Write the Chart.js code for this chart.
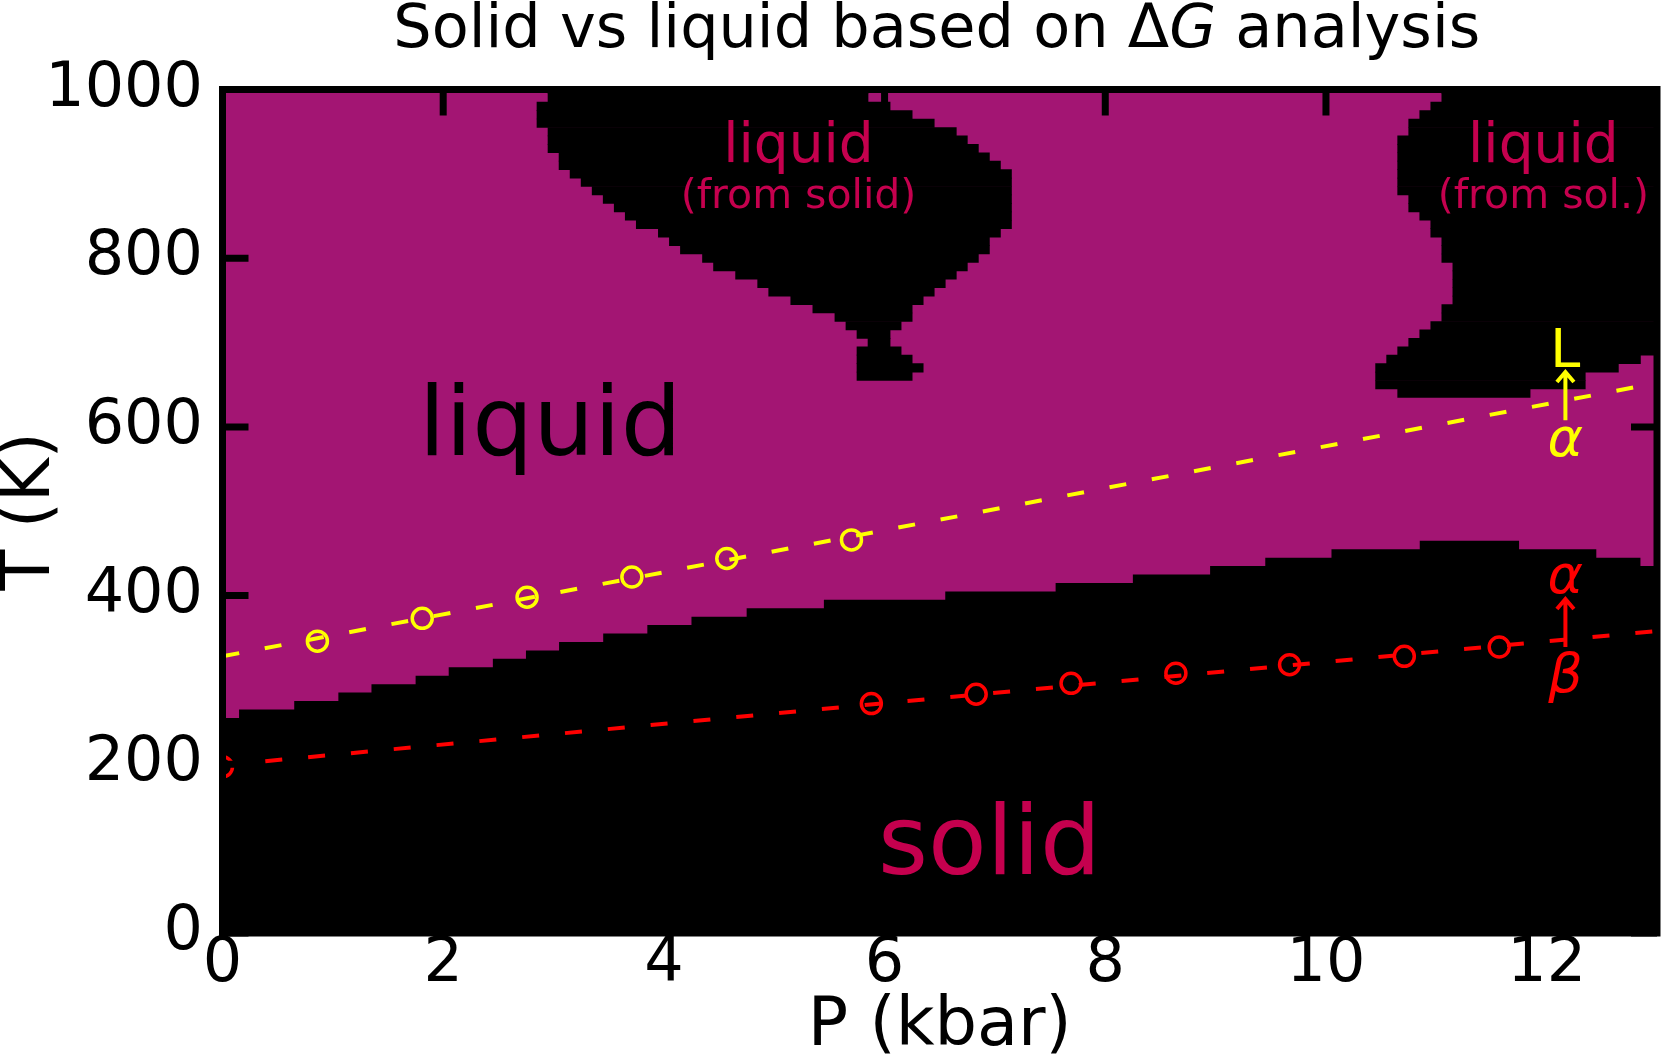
<!DOCTYPE html>
<html>
<head>
<meta charset="utf-8">
<title>Solid vs liquid based on ΔG analysis</title>
<script src="https://cdn.jsdelivr.net/npm/chart.js@4.4.1/dist/chart.umd.min.js"></script>
<style>
  html, body { margin: 0; padding: 0; background: #ffffff; }
  #chart { display: block; }
</style>
</head>
<body>
<canvas id="chart" width="1661" height="1062" style="width:1661px;height:1062px"></canvas>
<script>
// ================= DATA =================
const pressureLimits = [0, 13];            // P (kbar)
const temperatureLimits = [0, 1000];       // T (K)
const pressureTicks = [0, 2, 4, 6, 8, 10, 12];
const temperatureTicks = [0, 200, 400, 600, 800, 1000];

// Upper edge of the main solid region: level solidEdgeT[i] holds from solidEdgeP[i] to solidEdgeP[i+1]
const solidEdgeP = [0, 0.15, 0.65, 1.05, 1.35, 1.75, 2.05, 2.45, 2.75, 3.05, 3.45, 3.85, 4.25,
                    4.75, 5.45, 6.55, 7.55, 8.25, 8.95, 9.45, 10.05, 10.85, 11.75, 12.45, 12.85, 13];
const solidEdgeT = [255, 265, 275, 285, 295, 305, 315, 325, 335, 345, 355, 365, 375,
                    385, 395, 405, 415, 425, 435, 445, 455, 465, 455, 445, 435];

// Solid island "liquid (from solid)": one grid row per temperature, solid from..to (kbar)
const islandAT    = [1000, 990, 980, 970, 960, 950, 940, 930, 920, 910, 900, 890, 880, 870, 860, 850, 840,
                     830, 820, 810, 800, 790, 780, 770, 760, 750, 740, 730, 720, 710, 700, 690, 680, 670, 660];
const islandAFrom = [2.95, 2.95, 2.85, 2.85, 2.85, 2.95, 2.95, 2.95, 3.05, 3.05, 3.15, 3.25, 3.35, 3.45, 3.55, 3.65, 3.75,
                     3.95, 4.05, 4.15, 4.35, 4.45, 4.65, 4.85, 4.95, 5.15, 5.35, 5.55, 5.65, 5.75, 5.85, 5.75, 5.75, 5.75, 5.75];
const islandATo   = [5.85, 5.85, 6.05, 6.25, 6.45, 6.65, 6.75, 6.85, 6.95, 7.05, 7.15, 7.15, 7.15, 7.15, 7.15, 7.15, 7.15,
                     7.05, 6.95, 6.95, 6.85, 6.75, 6.65, 6.55, 6.45, 6.35, 6.25, 6.25, 6.15, 6.05, 6.05, 6.15, 6.25, 6.35, 6.25];

// Solid island "liquid (from sol.)"
const islandBT    = [1000, 990, 980, 970, 960, 950, 940, 930, 920, 910, 900, 890, 880, 870, 860, 850, 840, 830, 820,
                     810, 800, 790, 780, 770, 760, 750, 740, 730, 720, 710, 700, 690, 680, 670, 660, 650, 640];
const islandBFrom = [11.05, 11.05, 10.95, 10.85, 10.75, 10.75, 10.65, 10.65, 10.65, 10.65, 10.65, 10.65, 10.65, 10.75,
                     10.75, 10.85, 10.95, 10.95, 11.05, 11.05, 11.05, 11.15, 11.15, 11.15, 11.15, 11.15, 11.05, 11.05,
                     10.95, 10.85, 10.75, 10.65, 10.55, 10.45, 10.45, 10.45, 10.65];
const islandBTo   = [13, 13, 13, 13, 13, 13, 13, 13, 13, 13, 13, 13, 13, 13, 13, 13, 13, 13, 13,
                     13, 13, 13, 13, 13, 13, 13, 13, 13, 13, 13, 13, 13, 12.85, 12.65, 12.35, 12.35, 11.85];

// alpha -> L transition: fitted line and computed points
const alphaLFitP = [0, 13];
const alphaLFitT = [328, 652];
const alphaLP = [0.86, 1.81, 2.76, 3.71, 4.57, 5.70];
const alphaLT = [346, 373, 398, 422, 444, 466];

// beta -> alpha transition: fitted line and computed points
const betaAlphaFitP = [0, 13];
const betaAlphaFitT = [199, 358];
const betaAlphaP = [0, 5.88, 6.83, 7.69, 8.64, 9.67, 10.71, 11.57];
const betaAlphaT = [197, 272, 283, 296, 308, 318, 328, 339];

// ================= STYLE / ANNOTATIONS =================
const FONT = '"DejaVu Sans", "Liberation Sans", sans-serif';
const LIQ = 'rgb(163, 21, 115)';
const SOL = '#000000';
const CRIMSON = 'rgb(197, 0, 78)';
const YELLOW = '#ffff00';
const RED = '#ff0000';

const annotations = [
  { text: 'liquid',       p: 2.97,  t: 567, size: 96, color: '#000000', style: '' },
  { text: 'solid',        p: 6.95,  t: 70,  size: 96, color: CRIMSON,   style: '' },
  { text: 'liquid',       p: 5.22,  t: 914, size: 55, color: CRIMSON,   style: '' },
  { text: '(from solid)', p: 5.22,  t: 859, size: 41, color: CRIMSON,   style: '' },
  { text: 'liquid',       p: 11.97, t: 914, size: 55, color: CRIMSON,   style: '' },
  { text: '(from sol.)',  p: 11.97, t: 859, size: 41, color: CRIMSON,   style: '' },
  { text: 'L',            p: 12.17, t: 671, size: 54, color: YELLOW,    style: '' },
  { text: 'α',            p: 12.17, t: 565, size: 54, color: YELLOW,    style: 'italic ' },
  { text: 'α',            p: 12.17, t: 403, size: 54, color: RED,       style: 'italic ' },
  { text: 'β',            p: 12.17, t: 286, size: 54, color: RED,       style: 'italic ' }
];
const arrows = [
  { p: 12.17, from: 608, to: 665, color: YELLOW },
  { p: 12.17, from: 339, to: 396, color: RED }
];

// ================= BUILD =================
function toPoints(xs, ys) { return xs.map((x, i) => ({ x: x, y: ys[i] })); }

const solidData = solidEdgeT.map((t, i) => ({ x: solidEdgeP[i], y: t }));
solidData.push({ x: solidEdgeP[solidEdgeP.length - 1], y: solidEdgeT[solidEdgeT.length - 1] });

const islandBars = (ts, from, to) => ts.map((t, i) => ({ y: t, x: [from[i], to[i]] }));

const framePlugin = {
  id: 'frameTicksNotes',
  afterDatasetsDraw(chart) {
    const ctx = chart.ctx;
    const { left, right, top, bottom } = chart.chartArea;
    const xs = chart.scales.x, ys = chart.scales.y;
    ctx.save();
    // axes frame
    ctx.strokeStyle = '#000';
    ctx.lineWidth = 7;
    ctx.lineCap = 'butt';
    ctx.strokeRect(left, top, right - left, bottom - top);
    // inward tick marks on all four sides
    const len = 26;
    ctx.beginPath();
    pressureTicks.forEach(v => {
      const px = xs.getPixelForValue(v);
      ctx.moveTo(px, bottom); ctx.lineTo(px, bottom - len);
      ctx.moveTo(px, top); ctx.lineTo(px, top + len);
    });
    temperatureTicks.forEach(v => {
      const py = ys.getPixelForValue(v);
      ctx.moveTo(left, py); ctx.lineTo(left + len, py);
      ctx.moveTo(right, py); ctx.lineTo(right - len, py);
    });
    ctx.stroke();

    // arrows
    arrows.forEach(a => {
      const x = xs.getPixelForValue(a.p);
      const y0 = ys.getPixelForValue(a.from);
      const y1 = ys.getPixelForValue(a.to);
      ctx.strokeStyle = a.color;
      ctx.lineWidth = 4;
      ctx.lineJoin = 'miter';
      ctx.beginPath();
      ctx.moveTo(x, y0); ctx.lineTo(x, y1);
      ctx.moveTo(x - 8.5, y1 + 10); ctx.lineTo(x, y1); ctx.lineTo(x + 8.5, y1 + 10);
      ctx.stroke();
    });

    // region / phase labels
    ctx.textAlign = 'center';
    ctx.textBaseline = 'alphabetic';
    annotations.forEach(n => {
      ctx.font = n.style + n.size + 'px ' + FONT;
      ctx.fillStyle = n.color;
      ctx.fillText(n.text, xs.getPixelForValue(n.p), ys.getPixelForValue(n.t));
    });
    ctx.restore();
  },
  afterDraw(chart) {
    // title with italic G
    const ctx = chart.ctx;
    const { left, right } = chart.chartArea;
    const parts = [
      { t: 'Solid vs liquid based on Δ', f: '60.5px ' + FONT },
      { t: 'G', f: 'italic 60.5px ' + FONT },
      { t: ' analysis', f: '60.5px ' + FONT }
    ];
    ctx.save();
    let total = 0;
    parts.forEach(p => { ctx.font = p.f; p.w = ctx.measureText(p.t).width; total += p.w; });
    let x = (left + right) / 2 - 3 - total / 2;
    ctx.fillStyle = '#000';
    ctx.textAlign = 'left';
    ctx.textBaseline = 'alphabetic';
    parts.forEach(p => { ctx.font = p.f; ctx.fillText(p.t, x, 46.5); x += p.w; });
    ctx.restore();
  }
};

const chart = new Chart(document.getElementById('chart'), {
  data: {
    datasets: [
      { type: 'line', label: 'liquid', data: [{ x: pressureLimits[0], y: temperatureLimits[1] }, { x: pressureLimits[1], y: temperatureLimits[1] }],
        fill: 'start', backgroundColor: LIQ, borderWidth: 0, pointRadius: 0, order: 10 },
      { type: 'line', label: 'solid', data: solidData, stepped: 'before',
        fill: 'start', backgroundColor: SOL, borderWidth: 0, pointRadius: 0, order: 9 },
      { type: 'bar', label: 'solid island A', indexAxis: 'y', data: islandBars(islandAT, islandAFrom, islandATo),
        backgroundColor: SOL, borderWidth: 0, grouped: false, barPercentage: 1, categoryPercentage: 1, order: 8 },
      { type: 'bar', label: 'solid island B', indexAxis: 'y', data: islandBars(islandBT, islandBFrom, islandBTo),
        backgroundColor: SOL, borderWidth: 0, grouped: false, barPercentage: 1, categoryPercentage: 1, order: 7 },
      { type: 'line', label: 'α→L fit', data: toPoints(alphaLFitP, alphaLFitT), borderColor: YELLOW,
        borderWidth: 4, borderDash: [17, 26], pointRadius: 0, fill: false, order: 4 },
      { type: 'line', label: 'β→α fit', data: toPoints(betaAlphaFitP, betaAlphaFitT), borderColor: RED,
        borderWidth: 4, borderDash: [17, 26], pointRadius: 0, fill: false, order: 3 },
      { type: 'scatter', label: 'α→L', data: toPoints(alphaLP, alphaLT), pointRadius: 10, pointBorderWidth: 3.5,
        pointBorderColor: YELLOW, pointBackgroundColor: 'rgba(0,0,0,0)', order: 2 },
      { type: 'scatter', label: 'β→α', data: toPoints(betaAlphaP, betaAlphaT), pointRadius: 10, pointBorderWidth: 3.5,
        pointBorderColor: RED, pointBackgroundColor: 'rgba(0,0,0,0)', order: 1 }
    ]
  },
  options: {
    responsive: false,
    animation: false,
    devicePixelRatio: 1,
    events: [],
    layout: { autoPadding: false, padding: { top: 89.5, right: 4, bottom: 0, left: 0 } },
    elements: { line: { tension: 0 } },
    plugins: { legend: { display: false }, tooltip: { enabled: false }, title: { display: false } },
    scales: {
      x: {
        type: 'linear', position: 'bottom', min: pressureLimits[0], max: pressureLimits[1], offset: false,
        afterFit: s => { s.height = 129; },
        afterBuildTicks: s => { s.ticks = pressureTicks.map(v => ({ value: v })); },
        grid: { display: false, drawTicks: false, offset: false },
        border: { display: false },
        ticks: { color: '#000', padding: 1, maxRotation: 0, autoSkip: false,
                 callback: v => String(v),
                 font: { family: FONT, size: 62, lineHeight: 1 } },
        title: { display: true, text: 'P (kbar)', color: '#000',
                 font: { family: FONT, size: 67, lineHeight: 1 }, padding: { top: 0, bottom: 1 } }
      },
      y: {
        type: 'linear', position: 'left', min: temperatureLimits[0], max: temperatureLimits[1], offset: false,
        afterFit: s => { s.width = 222.5; },
        afterBuildTicks: s => { s.ticks = temperatureTicks.map(v => ({ value: v })); },
        grid: { display: false, drawTicks: false, offset: false },
        border: { display: false },
        ticks: { color: '#000', padding: 19.5, autoSkip: false,
                 callback: v => String(v),
                 font: { family: FONT, size: 62, lineHeight: 1 } },
        title: { display: true, text: 'T (K)', color: '#000',
                 font: { family: FONT, size: 67, lineHeight: 1 }, padding: { top: -1.5, bottom: 0 } }
      }
    }
  },
  plugins: [framePlugin]
});
</script>
</body>
</html>
